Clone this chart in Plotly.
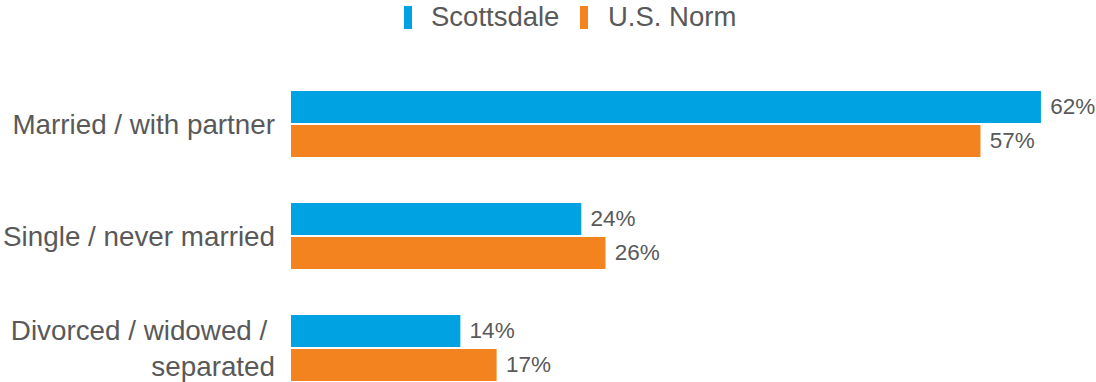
import plotly.graph_objects as go

categories = ["Married / with partner", "Single / never married", "Divorced / widowed /\u00a0<br>separated"]
scottsdale = [62, 24, 14]
us_norm = [57, 26, 17]
series_names = ["Scottsdale", "U.S. Norm"]

BLUE = "#00A2E1"
ORANGE = "#F2831F"
GRAY = "#595959"
FONT = "Liberation Sans, Arial, sans-serif"

W, H = 1096, 382
ML, MR, MT, MB = 291, 0, 68, 0


def px_x(px):
    """Pixel column -> paper x."""
    return (px - ML) / (W - ML - MR)


def px_y(py):
    """Pixel row (from top) -> paper y."""
    return (H - MB - py) / (H - MT - MB)


fig = go.Figure()
colors = [BLUE, ORANGE]
for name, vals, color in zip(series_names, [scottsdale, us_norm], colors):
    fig.add_trace(go.Bar(
        y=categories,
        x=vals,
        name=name,
        orientation="h",
        marker=dict(color=color, line=dict(width=0)),
        text=[f"{v}%" for v in vals],
        texttemplate="\u00a0%{text}",
        textposition="outside",
        textfont=dict(size=22.5, color=GRAY, family=FONT),
        cliponaxis=False,
        showlegend=False,
    ))

# Legend drawn above the plot: tall colour swatch followed by the series name
legend_swatch_x = [404, 580]
legend_text_x = [429, 606]
shapes, annotations = [], []
for name, color, sx, tx in zip(series_names, colors, legend_swatch_x, legend_text_x):
    shapes.append(dict(
        type="rect", xref="paper", yref="paper",
        x0=px_x(sx), x1=px_x(sx + 8), y0=px_y(29), y1=px_y(6),
        fillcolor=color, line=dict(width=0),
    ))
    annotations.append(dict(
        text=name, xref="paper", yref="paper",
        x=px_x(tx), y=px_y(17), xanchor="left", yanchor="middle",
        showarrow=False, font=dict(size=27.5, color=GRAY, family=FONT),
    ))

fig.update_layout(
    width=W,
    height=H,
    margin=dict(l=ML, r=MR, t=MT, b=MB),
    paper_bgcolor="white",
    plot_bgcolor="white",
    barmode="group",
    bargap=0.393,
    bargroupgap=0.06,
    font=dict(family=FONT, color=GRAY),
    showlegend=False,
    shapes=shapes,
    annotations=annotations,
    xaxis=dict(
        range=[0, 66.55],
        showgrid=False,
        zeroline=False,
        showticklabels=False,
        showline=False,
    ),
    yaxis=dict(
        type="category",
        range=[2.304, -0.5],
        showgrid=False,
        zeroline=False,
        showline=False,
        ticks="",
        ticklabelstandoff=15,
        tickfont=dict(size=27.8, color=GRAY, family=FONT),
    ),
)

fig.write_html("out.html")
